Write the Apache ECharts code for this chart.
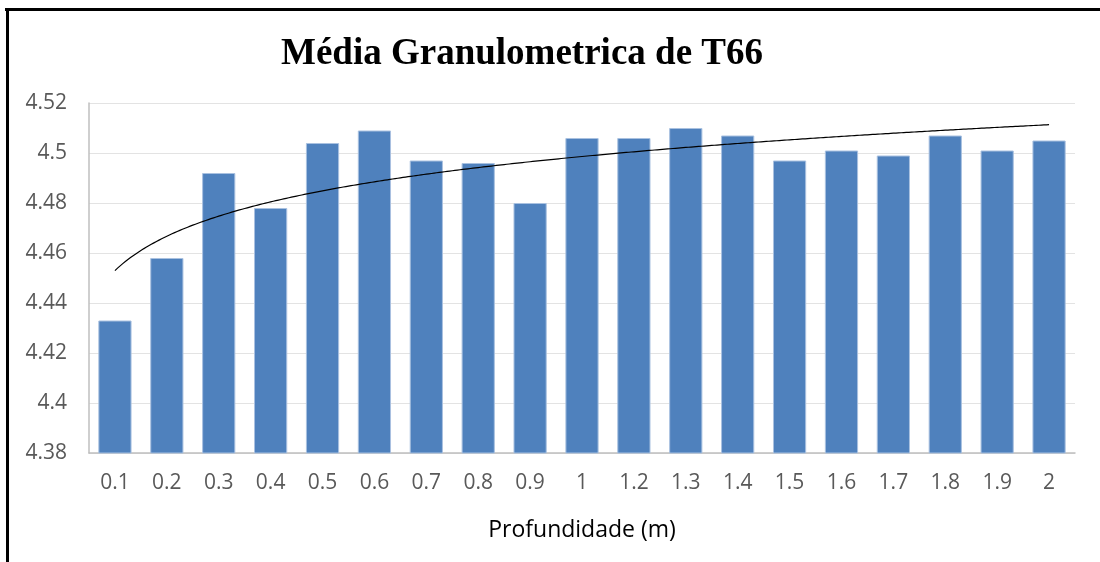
<!DOCTYPE html>
<html>
<head>
<meta charset="utf-8">
<script src="https://cdn.jsdelivr.net/npm/echarts@6/dist/echarts.min.js"></script>
<style>
html,body{margin:0;padding:0;background:#fff;}
#chart{width:1100px;height:562px;}
</style>
</head>
<body>
<div id="chart"></div>
<script>
const titleText = 'Média Granulometrica de T66';
const xAxisName = 'Profundidade (m)';
const categories = ['0.1','0.2','0.3','0.4','0.5','0.6','0.7','0.8','0.9','1','1.2','1.3','1.4','1.5','1.6','1.7','1.8','1.9','2'];
const values = [4.433,4.458,4.492,4.478,4.504,4.509,4.497,4.496,4.480,4.506,4.506,4.510,4.507,4.497,4.501,4.499,4.507,4.501,4.505];
const yMin = 4.38, yMax = 4.52, yStep = 0.02;

// Logarithmic trendline (least squares on ln of point index), as in a spreadsheet trendline
const n = values.length;
let sx=0, sy=0, sxx=0, sxy=0;
for (let i=0;i<n;i++){const lx=Math.log(i+1); sx+=lx; sy+=values[i]; sxx+=lx*lx; sxy+=lx*values[i];}
const slope = (n*sxy - sx*sy)/(n*sxx - sx*sx);
const icpt = (sy - slope*sx)/n;
const trend = [];
for (let t=1; t<=n+1e-9; t+=0.05){ trend.push([t, icpt + slope*Math.log(t)]); }

const chart = echarts.init(document.getElementById('chart'));
const lblFont = '"Open Sans", "Noto Sans", sans-serif';
chart.setOption({
  animation:false,
  backgroundColor:'#fff',
  title:{text:titleText,left:517,top:31,textAlign:'center',
    textStyle:{fontFamily:'"Liberation Serif","Times New Roman",serif',fontWeight:'bold',fontSize:37,color:'#000'}},
  grid:{left:89,top:103,width:986,height:350,containLabel:false},
  xAxis:[{
    type:'category',data:categories,
    axisLine:{lineStyle:{color:'#bfbfbf',width:1.5}},
    axisTick:{show:false},
    axisLabel:{color:'#595959',fontSize:21,fontFamily:lblFont,margin:20},
    name:xAxisName,nameLocation:'middle',nameGap:66,
    nameTextStyle:{color:'#000',fontSize:23,fontFamily:lblFont}
  },{
    type:'value',min:0.5,max:n+0.5,show:false
  }],
  yAxis:{
    type:'value',min:yMin,max:yMax,interval:yStep,
    axisLine:{show:true,lineStyle:{color:'#bfbfbf',width:1.5}},
    axisTick:{show:false},
    splitLine:{lineStyle:{color:'#e3e3e3',width:1.2}},
    axisLabel:{color:'#595959',fontSize:21,fontFamily:lblFont,margin:22,
      formatter:v=>String(Math.round(v*100)/100)}
  },
  series:[{
    type:'bar',data:values,barCategoryGap:'36%',
    itemStyle:{color:'#4f81bd',borderColor:'#a9c1e0',borderWidth:1}
  },{
    type:'line',xAxisIndex:1,data:trend,showSymbol:false,symbol:'none',
    lineStyle:{color:'#000',width:1.2},z:5,silent:true
  }],
  graphic:[
    {type:'rect',shape:{x:5,y:8,width:1200,height:3},style:{fill:'#000'}},
    {type:'rect',shape:{x:6,y:8,width:3,height:600},style:{fill:'#000'}}
  ]
});
</script>
</body>
</html>
